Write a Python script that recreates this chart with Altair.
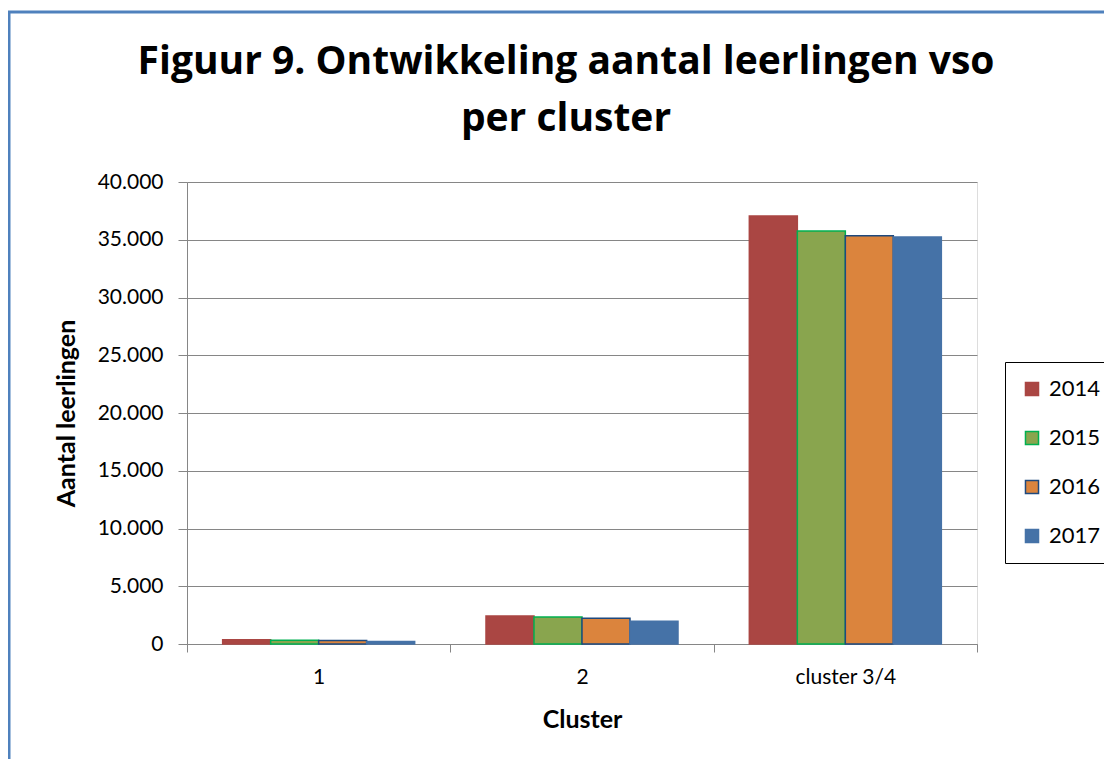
import altair as alt
import pandas as pd

clusters = ["1", "2", "cluster 3/4"]
years = ["2014", "2015", "2016", "2017"]
v2014 = [360, 2420, 37060]
v2015 = [330, 2340, 35760]
v2016 = [310, 2220, 35350]
v2017 = [220, 1970, 35240]
fills = ["#AA4643", "#89A54E", "#DB843D", "#4572A7"]
strokes = ["#AA4643", "#00B050", "#1F497D", "#4572A7"]
y_ticks = [0, 5000, 10000, 15000, 20000, 25000, 30000, 35000, 40000]

rows = []
for yr, vals in zip(years, [v2014, v2015, v2016, v2017]):
    for c, v in zip(clusters, vals):
        rows.append({"cluster": c, "year": yr, "value": v})
df = pd.DataFrame(rows)

FONT = "Lato"
GRAY = "#868686"

legend = alt.Legend(
    title=None, orient="none", legendX=818, legendY=180,
    labelFontSize=22, labelFont=FONT, labelColor="black",
    symbolType="square", symbolSize=170, symbolStrokeWidth=1.5,
    rowPadding=27, padding=16, strokeColor="black",
    labelOffset=6,
)

bars = alt.Chart(df).mark_bar(strokeWidth=1.5).encode(
    x=alt.X("cluster:N", sort=clusters,
            scale=alt.Scale(paddingInner=0, paddingOuter=0),
            axis=alt.Axis(title="Cluster", tickBand="extent", labelAngle=0,
                          labelFontSize=21, labelFont=FONT, labelColor="black",
                          labelPadding=14, tickSize=8, tickColor=GRAY,
                          domainColor=GRAY, titleFontSize=25, titleFont=FONT,
                          titleFontWeight="bold", titleColor="black",
                          titlePadding=20, grid=False)),
    xOffset=alt.XOffset("year:N", sort=years,
                        scale=alt.Scale(paddingOuter=0.743, paddingInner=0)),
    y=alt.Y("value:Q",
            scale=alt.Scale(domain=[0, 40000], nice=False),
            axis=alt.Axis(title="Aantal leerlingen", values=y_ticks,
                          labelExpr="replace(format(datum.value, ',d'), ',', '.')",
                          labelFontSize=21, labelFont=FONT, labelColor="black",
                          labelPadding=15, tickSize=9, tickColor=GRAY,
                          domainColor=GRAY, gridColor=GRAY,
                          titleFontSize=25, titleFont=FONT,
                          titleFontWeight="bold", titleColor="black",
                          titlePadding=18)),
    color=alt.Color("year:N", scale=alt.Scale(domain=years, range=fills), legend=legend),
    stroke=alt.Stroke("year:N", scale=alt.Scale(domain=years, range=strokes), legend=legend),
)

frame_df = pd.DataFrame({"k": [0]})
frame_left = alt.Chart(frame_df).mark_rule(color="#4F81BD", strokeWidth=3).encode(
    x=alt.value(-178), y=alt.value(-171), y2=alt.value(600))
frame_top = alt.Chart(frame_df).mark_rule(color="#4F81BD", strokeWidth=3).encode(
    x=alt.value(-179), x2=alt.value(940), y=alt.value(-170))

chart = alt.layer(bars, frame_left, frame_top).properties(
    width=790, height=462,
    autosize=alt.AutoSizeParams(type="none"),
    padding={"left": 179, "top": 174, "right": 127, "bottom": 115},
    title=alt.TitleParams(
        text=["Figuur 9. Ontwikkeling aantal leerlingen vso", "per cluster"],
        fontSize=39, font="Open Sans", fontWeight="bold", color="black",
        anchor="middle", dx=-16, offset=-129, lineHeight=57,
    ),
).configure_view(stroke=None).configure(background="white")

chart.save("out.html", embed_options={"renderer": "svg", "actions": False})
